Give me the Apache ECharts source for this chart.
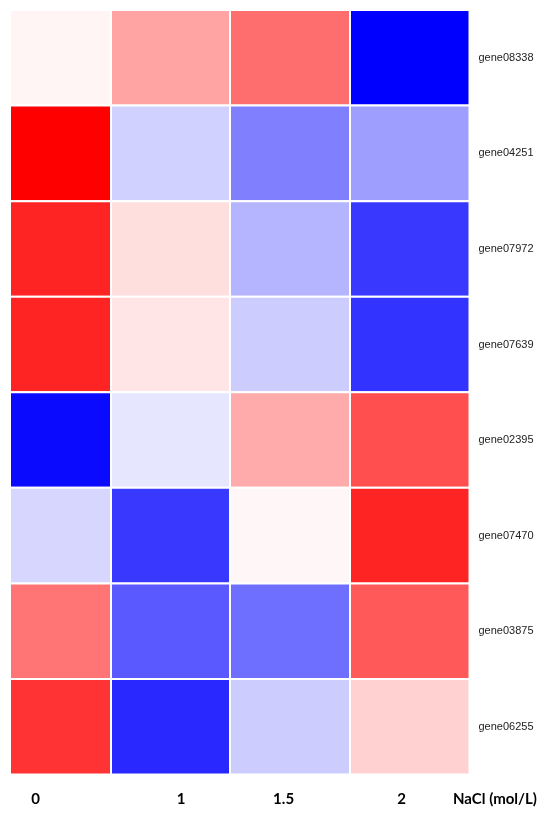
<!DOCTYPE html>
<html>
<head>
<meta charset="utf-8">
<script src="https://cdn.jsdelivr.net/npm/echarts@6/dist/echarts.min.js"></script>
<style>html,body{margin:0;padding:0;background:#fff;}#c{width:550px;height:815px;}</style>
</head>
<body>
<div id="c"></div>
<script>
// ---- data ----
const genes = ['gene08338','gene04251','gene07972','gene07639','gene02395','gene07470','gene03875','gene06255'];
const conditions = ['0','1','1.5','2'];
const axisTitle = 'NaCl (mol/L)';
// relative expression (blue = low, red = high), one row per gene, columns = conditions
const row_gene08338 = [0.04, 0.36, 0.57, -1.00];
const row_gene04251 = [1.00, -0.18, -0.50, -0.38];
const row_gene07972 = [0.86, 0.13, -0.29, -0.78];
const row_gene07639 = [0.86, 0.10, -0.20, -0.80];
const row_gene02395 = [-0.96, -0.10, 0.33, 0.69];
const row_gene07470 = [-0.16, -0.78, 0.03, 0.86];
const row_gene03875 = [0.54, -0.65, -0.57, 0.65];
const row_gene06255 = [0.80, -0.84, -0.20, 0.18];
const rows = [row_gene08338,row_gene04251,row_gene07972,row_gene07639,row_gene02395,row_gene07470,row_gene03875,row_gene06255];

// ---- layout ----
const colWidths = [101, 119, 120, 119.5];
const colEdges = [0];
colWidths.forEach(w => colEdges.push(colEdges[colEdges.length-1] + w));
const labelCenters = [35.7, 181, 283.6, 401.6];

const cells = [];
rows.forEach((r, ri) => r.forEach((v, ci) => cells.push([ci, ri, v])));

const chart = echarts.init(document.getElementById('c'));
chart.setOption({
  animation: false,
  backgroundColor: '#fff',
  grid: { left: 10, right: 80.5, top: 10, bottom: 40.5 },
  xAxis: { type: 'value', min: 0, max: colEdges[colEdges.length-1], show: false },
  yAxis: {
    type: 'category', data: genes, inverse: true, position: 'right',
    axisLine: { show: false }, axisTick: { show: false }, splitLine: { show: false },
    axisLabel: { margin: 9, fontSize: 11, color: '#222', fontFamily: 'Liberation Sans, Arial, sans-serif' }
  },
  visualMap: {
    show: false, dimension: 2, min: -1, max: 1, seriesIndex: 0,
    inRange: { color: ['#0000ff', '#ffffff', '#ff0000'] }
  },
  series: [{
    type: 'custom',
    data: cells,
    encode: { x: 0, y: 1 },
    renderItem: function (params, api) {
      const ci = api.value(0), ri = api.value(1);
      const p0 = api.coord([colEdges[ci], ri]);
      const p1 = api.coord([colEdges[ci + 1], ri]);
      const h = api.size([0, 1])[1];
      return {
        type: 'rect',
        shape: { x: p0[0], y: p0[1] - h / 2, width: p1[0] - p0[0], height: h },
        style: { fill: api.visual('color'), stroke: '#fff', lineWidth: 2 }
      };
    }
  }],
  graphic: conditions.map((t, i) => ({
    type: 'text', x: labelCenters[i], y: 799,
    style: { text: t, fill: '#000', font: 'bold 15px Lato, sans-serif', textAlign: 'center', textVerticalAlign: 'middle' }
  })).concat([{
    type: 'text', x: 453, y: 799,
    style: { text: axisTitle, fill: '#000', font: 'bold 15px Lato, sans-serif', textAlign: 'left', textVerticalAlign: 'middle' }
  }])
});
</script>
</body>
</html>
